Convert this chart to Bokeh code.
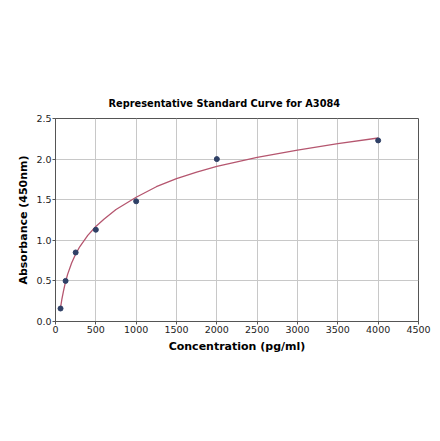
from bokeh.plotting import figure
from bokeh.models import Range1d, FixedTicker, CustomJSTickFormatter
from bokeh.embed import file_html
from bokeh.resources import INLINE

# Standard points
conc = [62.5, 125, 250, 500, 1000, 2000, 4000]
absorb = [0.16, 0.50, 0.85, 1.13, 1.48, 2.00, 2.23]

# Fitted curve
curve_x = [62.5, 80, 100, 125, 150, 200, 250, 300, 400, 500, 600, 750,
           1000, 1250, 1500, 1750, 2000, 2500, 3000, 3500, 4000]
curve_y = [0.17, 0.28, 0.38, 0.49, 0.58, 0.72, 0.83, 0.92, 1.06, 1.17, 1.26, 1.38,
           1.53, 1.66, 1.76, 1.84, 1.91, 2.02, 2.11, 2.19, 2.26]

x_ticks = [0, 500, 1000, 1500, 2000, 2500, 3000, 3500, 4000, 4500]
y_ticks = [0.0, 0.5, 1.0, 1.5, 2.0, 2.5]

p = figure(width=432, height=433, output_backend="svg", toolbar_location=None,
           x_range=Range1d(0, 4500), y_range=Range1d(0, 2.5),
           min_border_left=55, min_border_right=14, min_border_top=118, min_border_bottom=112,
           title="Representative Standard Curve for A3084")
p.title.align = "left"
p.title.offset = 53
p.title.text_font = "DejaVu Sans"
p.title.text_font_size = "9.8px"
p.title.text_font_style = "bold"
p.title.text_color = "#000000"
p.title.standoff = 19

p.line(curve_x, curve_y, line_color="#b5566f", line_width=1.3)
p.scatter(conc, absorb, size=5, fill_color="#2f4066", line_color="#2f4066")

p.xaxis.ticker = FixedTicker(ticks=x_ticks)
p.yaxis.ticker = FixedTicker(ticks=y_ticks)
p.yaxis.formatter = CustomJSTickFormatter(code="return tick.toFixed(1);")

for ax in (p.xaxis[0], p.yaxis[0]):
    ax.major_label_text_font = "DejaVu Sans"
    ax.major_label_text_font_size = "9.5px"
    ax.major_label_text_color = "#222222"
    ax.major_label_standoff = 1
    ax.axis_label_text_font = "DejaVu Sans"
    ax.axis_label_text_font_size = "11px"
    ax.axis_label_text_font_style = "bold"
    ax.axis_label_text_color = "#000000"
    ax.minor_tick_line_color = None
    ax.major_tick_out = 3
    ax.major_tick_in = 0
    ax.axis_line_color = "#555555"
    ax.major_tick_line_color = "#555555"

p.xaxis.axis_label = "Concentration (pg/ml)"
p.yaxis.axis_label = "Absorbance (450nm)"
p.xaxis.axis_label_standoff = 4
p.yaxis.axis_label_standoff = 3

p.grid.grid_line_color = "#c8c8c8"
p.grid.grid_line_width = 1
p.outline_line_color = "#555555"
p.outline_line_width = 1
p.background_fill_color = "white"
p.border_fill_color = "white"

open("out.html", "w").write(file_html(p, INLINE))
